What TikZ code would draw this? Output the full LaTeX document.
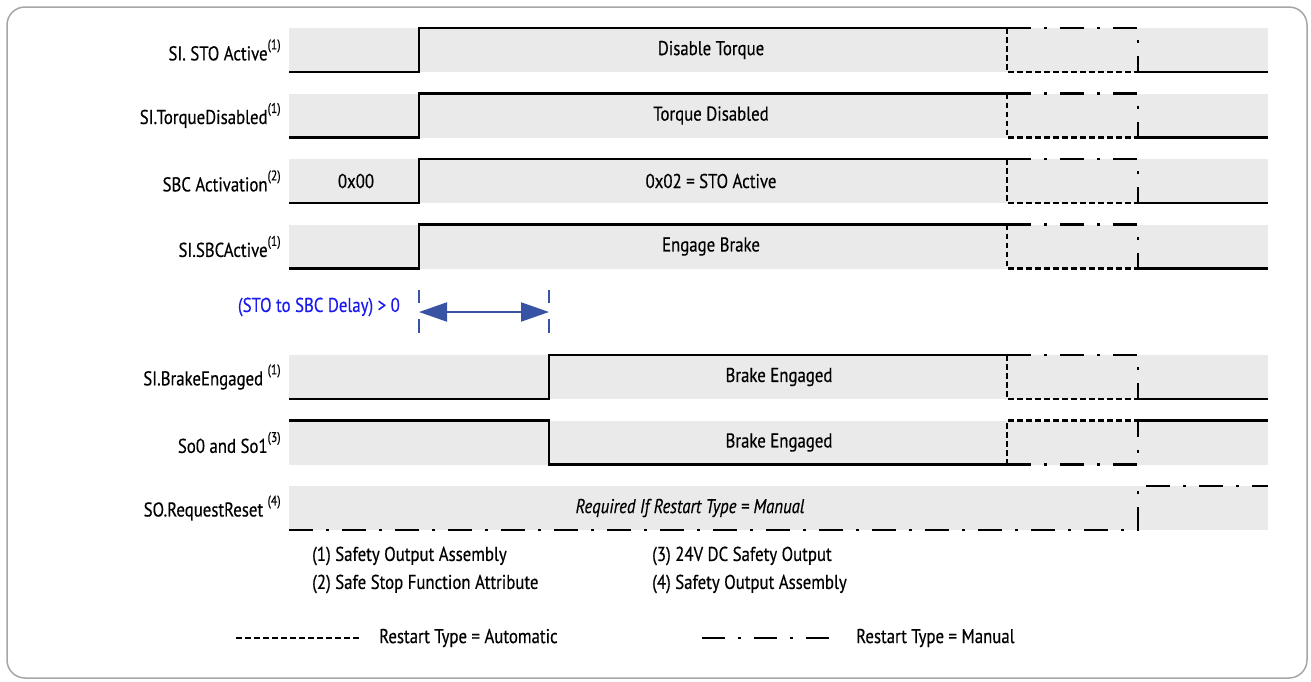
\documentclass[tikz,border=0pt]{standalone}
\usepackage{fontspec}
\setmainfont{PT Sans}[FakeStretch=0.84,FakeBold=0.4]
\usetikzlibrary{arrows.meta,positioning}
\definecolor{bandgray}{HTML}{EAEAEA}
\definecolor{framegray}{HTML}{A6A6A6}
\definecolor{delayblue}{HTML}{1A1AF0}
\definecolor{arrowblue}{HTML}{3953A4}
\newcommand{\supnote}[1]{\raisebox{0.55em}{\fontsize{14}{14}\selectfont(#1)}}

\begin{document}
\begin{tikzpicture}[x=1pt,y=-1pt,line join=miter,
	font=\fontsize{20}{23}\selectfont]
	\tikzstyle{band}=[fill=bandgray,minimum width=979pt,minimum height=44pt,inner sep=0pt]
	\tikzstyle{sig}=[line width=2.6pt]
	\tikzstyle{autodash}=[line width=2.4pt,dash pattern=on 5.5pt off 3.5pt]
	\tikzstyle{manualdash}=[line width=2.8pt,dash pattern=on 24pt off 13pt on 3pt off 13pt]
	\tikzstyle{signame}=[inner sep=0pt]
	\tikzstyle{tick}=[arrowblue,line width=1.5pt,dash pattern=on 13pt off 16pt on 14pt]

	\useasboundingbox (0,0) rectangle (1311,681);
	\draw[framegray,line width=1.5pt,rounded corners=18pt] (7,7) rectangle (1307,678);

	% bands and signal names
	\node[band] (b1) at (778.5,50) {};
	\node[band] (b2) at (778.5,115.5) {};
	\node[band] (b3) at (778.5,181) {};
	\node[band] (b4) at (778.5,246.5) {};
	\node[band] (b5) at (778.5,377) {};
	\node[band] (b6) at (778.5,442.5) {};
	\node[band] (b7) at (778.5,508) {};

	\node[signame,left=8pt of b1] (n1) {SI. STO Active\supnote{1}};
	\node[signame,left=8pt of b2] (n2) {SI.TorqueDisabled\supnote{1}};
	\node[signame,left=8pt of b3] (n3) {SBC Activation\supnote{2}};
	\node[signame,left=8pt of b4] (n4) {SI.SBCActive\supnote{1}};
	\node[signame,left=8pt of b5] (n5) {SI.BrakeEngaged \supnote{1}};
	\node[signame,left=8pt of b6] (n6) {So0 and So1\supnote{3}};
	\node[signame,left=8pt of b7] (n7) {SO.RequestReset \supnote{4}};

	% STO rows
	\draw[sig] (289,72) -| (419,28) -- (1007,28);
	\draw[manualdash] (1007,28) -| (1138,72);
	\draw[autodash] (1007,28) |- (1138,72);
	\draw[sig] (1138,72) -- (1268,72);
	\node (t1) at (711,50) {Disable Torque};

	\draw[sig] (289,137.5) -| (419,93.5) -- (1007,93.5);
	\draw[manualdash] (1007,93.5) -| (1138,137.5);
	\draw[autodash] (1007,93.5) |- (1138,137.5);
	\draw[sig] (1138,137.5) -- (1268,137.5);
	\node (t2) at (711,115.5) {Torque Disabled};

	\draw[sig] (289,203) -| (419,159) -- (1007,159);
	\draw[manualdash] (1007,159) -| (1138,203);
	\draw[autodash] (1007,159) |- (1138,203);
	\draw[sig] (1138,203) -- (1268,203);
	\node (t3a) at (356,181) {0x00};
	\node (t3b) at (711,181) {0x02 = STO Active};

	\draw[sig] (289,268.5) -| (419,224.5) -- (1007,224.5);
	\draw[manualdash] (1007,224.5) -| (1138,268.5);
	\draw[autodash] (1007,224.5) |- (1138,268.5);
	\draw[sig] (1138,268.5) -- (1268,268.5);
	\node (t4) at (711,246.5) {Engage Brake};

	% delay
	\node[text=delayblue,anchor=east,inner sep=0pt] (dl) at (400,307) {(STO to SBC Delay) > 0};
	\coordinate (d1) at (419,312);
	\coordinate (d2) at (549,312);
	\draw[tick] ([yshift=22pt]d1) -- ([yshift=-21pt]d1);
	\draw[tick] ([yshift=22pt]d2) -- ([yshift=-21pt]d2);
	\draw[arrowblue,line width=2pt,{Triangle[length=28pt,width=19pt]}-{Triangle[length=28pt,width=19pt]}] (d1) -- (d2);

	% brake rows
	\draw[sig] (289,399) -| (549,355) -- (1007,355);
	\draw[manualdash] (1007,355) -| (1138,399);
	\draw[autodash] (1007,355) |- (1138,399);
	\draw[sig] (1138,399) -- (1268,399);
	\node (t5) at (779,377) {Brake Engaged};

	\draw[sig] (289,420.5) -| (549,464.5) -- (1007,464.5);
	\draw[manualdash] (1007,464.5) -| (1138,420.5);
	\draw[autodash] (1007,464.5) |- (1138,420.5);
	\draw[sig] (1138,420.5) -- (1268,420.5);
	\node (t6) at (779,442.5) {Brake Engaged};

	\draw[manualdash] (289,530) -| (1138,486) -- (1268,486);
	\node (t7) at (690,508) {\itshape Required If Restart Type = Manual};

	% notes
	\node[anchor=west,inner sep=0pt] (f1) at (312,556) {(1) Safety Output Assembly};
	\node[anchor=west,inner sep=0pt] (f2) at (312,584) {(2) Safe Stop Function Attribute};
	\node[anchor=west,inner sep=0pt] (f3) at (652,556) {(3) 24V DC Safety Output};
	\node[anchor=west,inner sep=0pt] (f4) at (652,584) {(4) Safety Output Assembly};

	% legend
	\coordinate (la1) at (236,638);
	\coordinate (la2) at (359,638);
	\coordinate (lm1) at (702,638);
	\coordinate (lm2) at (837,638);
	\draw[autodash] (la1) -- (la2);
	\node[inner sep=0pt,right=20pt of la2] (lat) {Restart Type = Automatic};
	\draw[manualdash,dash pattern=on 23pt off 13pt on 3pt off 13pt] (lm1) -- (lm2);
	\node[inner sep=0pt,right=19pt of lm2] (lmt) {Restart Type = Manual};
\end{tikzpicture}
\end{document}
